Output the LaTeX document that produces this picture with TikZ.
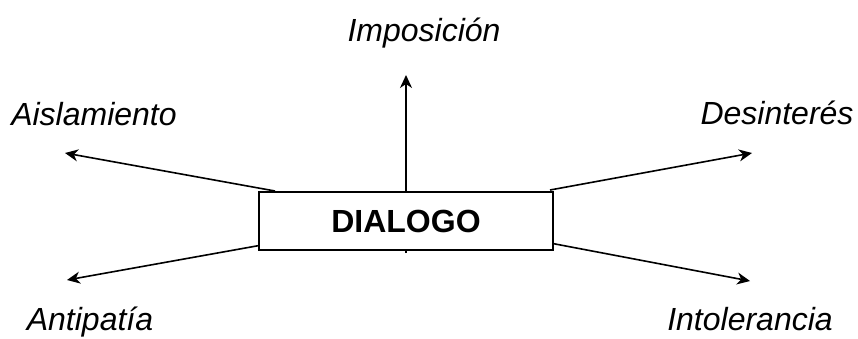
\documentclass[tikz,border=0pt]{standalone}
\usepackage{fontspec}
\setmainfont{Liberation Sans}
\usetikzlibrary{arrows.meta}
\begin{document}
\begin{tikzpicture}[x=1pt,y=-1pt,
  lbl/.style={font=\fontsize{32}{38}\selectfont\itshape, anchor=base, inner sep=0pt},
  arr/.style={line width=1.6pt, -{Stealth[length=13pt,width=12pt,inset=4pt]}},
  mainbox/.style={draw, line width=2pt, fill=white, minimum width=294pt, minimum height=58pt, inner sep=0pt, font=\fontsize{32}{38}\selectfont\bfseries}]
\useasboundingbox (0,0) rectangle (858,338);
% arrow start points (hidden behind the box) and tips
\coordinate (sU) at (406,253);
\coordinate (tU) at (406,75);
\coordinate (sUL) at (275,191);
\coordinate (tUL) at (65,153);
\coordinate (sLL) at (262,245);
\coordinate (tLL) at (67,280);
\coordinate (sUR) at (550,190);
\coordinate (tUR) at (752,153);
\coordinate (sLR) at (550,243);
\coordinate (tLR) at (750,281);
\draw[arr] (sU) -- (tU);
\draw[arr] (sUL) -- (tUL);
\draw[arr] (sLL) -- (tLL);
\draw[arr] (sUR) -- (tUR);
\draw[arr] (sLR) -- (tLR);
\node[mainbox] (dlg) at (406,221) {DIALOGO};
\node[lbl] (imp) at (424,41) {Imposición};
\node[lbl] (ais) at (94,125) {Aislamiento};
\node[lbl] (des) at (777,124) {Desinterés};
\node[lbl] (ant) at (90,330) {Antipatía};
\node[lbl] (into) at (750,330) {Intolerancia};
\end{tikzpicture}
\end{document}
